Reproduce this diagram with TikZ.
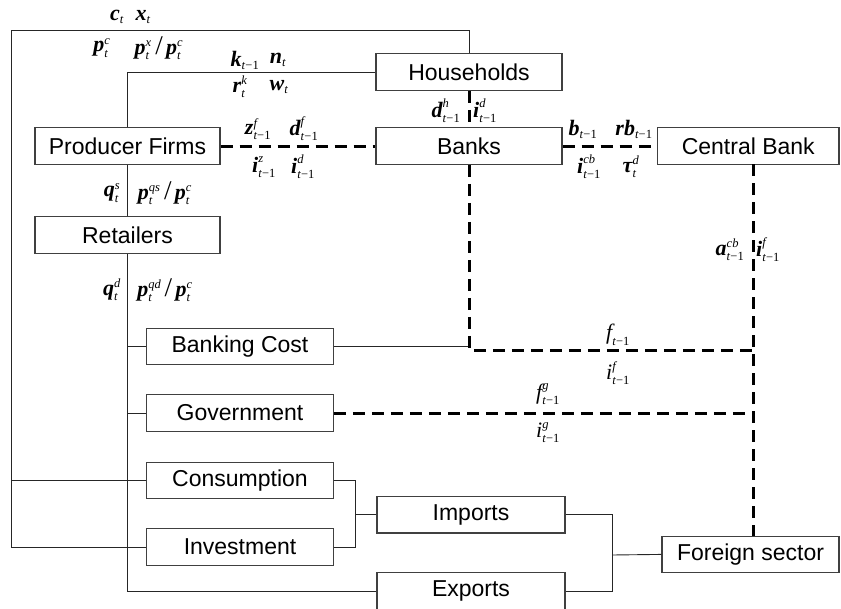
\documentclass[tikz,border=0pt]{standalone}
\usepackage{fontspec}
\setmainfont{Liberation Sans}
\newfontfamily\tnr{Liberation Serif}
\newcommand\bv[1]{\hbox{\tnr\fontsize{22}{22}\selectfont\bfseries\itshape #1}}
\newcommand\rv[1]{\hbox{\tnr\fontsize{22}{22}\selectfont\itshape #1}}
\newcommand\sv[1]{\hbox{\tnr\fontsize{12.5}{12.5}\selectfont\itshape #1}}
\newcommand\tmo{t\textup{−1}}
\newcommand\slsh{\mskip3mu\hbox{\tnr\fontsize{27}{27}\selectfont /}\mskip3mu}
\tikzset{
  box/.style={draw=black!75, line width=1.1pt, inner sep=0pt, minimum height=36.5pt,
    font=\fontsize{23}{23}\selectfont},
  thin/.style={draw=black!85, line width=0.9pt},
  dline/.style={draw=black, line width=3pt, dash pattern=on 12pt off 7pt},
  lab/.style={inner sep=0pt, font=\fontsize{20}{20}\selectfont}
}
\begin{document}
\begin{tikzpicture}[x=1pt,y=-1pt]
\useasboundingbox (0,0) rectangle (841,608);
% boxes
\node[box, minimum width=186pt] (hh) at (469,72) {Households};
\node[box, minimum width=185pt] (pf) at (127.5,146) {Producer Firms};
\node[box, minimum width=185pt] (ret) at (127.5,235) {Retailers};
\node[box, minimum width=186pt] (banks) at (469,146) {Banks};
\node[box, minimum width=181.5pt] (cb) at (748.25,146) {Central Bank};
\node[box, minimum width=186.5pt] (bc) at (240,346.5) {Banking Cost};
\node[box, minimum width=186.5pt] (gov) at (240,413) {Government};
\node[box, minimum width=186.5pt] (cons) at (240,480.5) {Consumption};
\node[box, minimum width=186.5pt] (inv) at (240,547) {Investment};
\node[box, minimum width=188pt] (imp) at (471,514.7) {Imports};
\node[box, minimum width=188pt] (exp) at (471,591) {Exports};
\node[box, minimum width=177pt] (fs) at (750.5,554.4) {Foreign sector};
% coordinates
\coordinate (tl) at (11,30);
\coordinate (ml) at (11,480.5);
\coordinate (bl) at (11,547);
\coordinate (ci) at (355.8,514.7);
\coordinate (ie) at (612,555);
\coordinate (fc) at (753.6,350);
\coordinate (gc) at (753.6,413);
\coordinate (cbs) at (753.6,164.2);
\coordinate (fsn) at (753.6,536);
% solid connectors
\draw[thin] (pf.north) |- (hh.west);
\draw[thin] (pf.south) -- (ret.north);
\draw[thin] (hh.north) |- (tl) -- (bl) -- (inv.west);
\draw[thin] (ml) -- (cons.west);
\draw[thin] (ret.south) |- (exp.west);
\draw[thin] (bc.west -| ret.south) -- (bc.west);
\draw[thin] (gov.west -| ret.south) -- (gov.west);
\draw[thin] (cons.east) -- (cons.east -| ci) |- (inv.east);
\draw[thin] (ci) -- (imp.west);
\draw[thin] (imp.east) -- (imp.east -| ie) |- (exp.east);
\draw[thin] (ie) -- (fs.west);
\draw[thin] (bc.east) -- (bc.east -| banks.south);
% dashed connectors
\draw[dline] (pf.east) -- (banks.west);
\draw[dline] (banks.east) -- (cb.west);
\draw[dline] (hh.south) -- (banks.north);
\draw[dline] (banks.south) |- (fc);
\draw[dline] (gov.east) -- (gc);
\draw[dline] (cbs) -- (fsn);
% labels
\node[lab] (l1) at (117,17) {$\bv{c}_{\sv{t}}$};
\node[lab] (l2) at (143,17) {$\bv{x}_{\sv{t}}$};
\node[lab] (l3) at (102,48) {$\bv{p}^{\sv{c}}_{\sv{t}}$};
\node[lab] (l4) at (159,48) {$\bv{p}^{\sv{x}}_{\sv{t}}\slsh\bv{p}^{\sv{c}}_{\sv{t}}$};
\node[lab] (l5) at (245,60) {$\bv{k}_{\sv{\tmo}}$};
\node[lab] (l6) at (278,60) {$\bv{n}_{\sv{t}}$};
\node[lab] (l7) at (240,87) {$\bv{r}^{\sv{k}}_{\sv{t}}$};
\node[lab] (l8) at (279,87) {$\bv{w}_{\sv{t}}$};
\node[lab] (l9) at (446,111) {$\bv{d}^{\sv{h}}_{\sv{\tmo}}$};
\node[lab] (l10) at (485,111) {$\bv{i}^{\sv{d}}_{\sv{\tmo}}$};
\node[lab] (l11) at (258,129) {$\bv{z}^{\sv{f}}_{\sv{\tmo}}$};
\node[lab] (l12) at (304,129) {$\bv{d}^{\sv{f}}_{\sv{\tmo}}$};
\node[lab] (l13) at (264,167) {$\bv{i}^{\sv{z}}_{\sv{\tmo}}$};
\node[lab] (l14) at (303,167) {$\bv{i}^{\sv{d}}_{\sv{\tmo}}$};
\node[lab] (l15) at (112,193) {$\bv{q}^{\sv{s}}_{\sv{t}}$};
\node[lab] (l16) at (165,193) {$\bv{p}^{\sv{qs}}_{\sv{t}}\slsh\bv{p}^{\sv{c}}_{\sv{t}}$};
\node[lab] (l17) at (112,290) {$\bv{q}^{\sv{d}}_{\sv{t}}$};
\node[lab] (l18) at (165,290) {$\bv{p}^{\sv{qd}}_{\sv{t}}\slsh\bv{p}^{\sv{c}}_{\sv{t}}$};
\node[lab] (l19) at (583,129) {$\bv{b}_{\sv{\tmo}}$};
\node[lab] (l20) at (634,129) {$\bv{rb}_{\sv{\tmo}}$};
\node[lab] (l21) at (589,167) {$\bv{i}^{\sv{cb}}_{\sv{\tmo}}$};
\node[lab] (l22) at (631,167) {$\bv{τ}^{\sv{d}}_{\sv{t}}$};
\node[lab] (l23) at (730,250) {$\bv{a}^{\sv{cb}}_{\sv{\tmo}}$};
\node[lab] (l24) at (768,250) {$\bv{i}^{\sv{f}}_{\sv{\tmo}}$};
\node[lab] (l25) at (618,335) {$\rv{f}_{\sv{\tmo}}$};
\node[lab] (l26) at (618,373) {$\rv{i}^{\sv{f}}_{\sv{\tmo}}$};
\node[lab] (l27) at (548,394) {$\rv{f}^{\sv{g}}_{\sv{\tmo}}$};
\node[lab] (l28) at (548,433) {$\rv{i}^{\sv{g}}_{\sv{\tmo}}$};
\end{tikzpicture}
\end{document}
